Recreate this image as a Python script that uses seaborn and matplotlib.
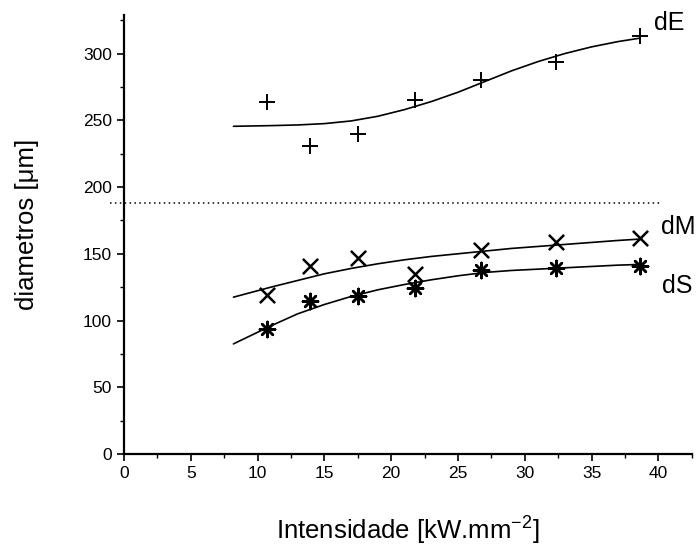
import matplotlib
matplotlib.use('Agg')
from matplotlib import pyplot as plt
from matplotlib.ticker import MultipleLocator
import seaborn as sns
import pandas as pd

# measured points
intensity = [10.7, 13.9, 17.5, 21.8, 26.7, 32.3, 38.6]
dE = [264, 231, 240, 265, 280, 294, 313]
dM = [119, 141, 147, 135, 153, 159, 162]
dS = [94, 115, 118, 124, 138, 139, 141]

# fitted curves
fit_x = [8.2, 11.0, 13.0, 15.0, 17.0, 19.0, 21.0, 23.0, 25.0, 27.0,
         29.0, 31.0, 33.0, 35.0, 37.0, 38.6]
fit_dE = [245.5, 246, 246.5, 247.5, 249.5, 253, 258, 264, 271, 279,
          287, 294, 300, 305, 309, 311.5]
fit_dM = [117.5, 125, 130, 135, 139, 142.5, 145.5, 148, 150, 152,
          154, 155.5, 157, 158.5, 160, 161]
fit_dS = [82.5, 96, 105, 112, 118, 123, 127, 130.5, 133.5, 136,
          137.5, 138.5, 139.5, 140.5, 141.5, 142]

limit_y = 188

n = len(fit_x)
pts = pd.DataFrame({'I': intensity * 3,
                    'd': dE + dM + dS,
                    'serie': ['dE'] * 7 + ['dM'] * 7 + ['dS'] * 7})
fits = pd.DataFrame({'I': fit_x * 3,
                     'd': fit_dE + fit_dM + fit_dS,
                     'serie': ['dE'] * n + ['dM'] * n + ['dS'] * n})

sns.set_style('ticks', {'axes.edgecolor': 'black', 'text.color': 'black',
                        'axes.labelcolor': 'black', 'xtick.color': 'black',
                        'ytick.color': 'black'})
plt.rcParams['font.family'] = ['Liberation Sans', 'DejaVu Sans']

fig = plt.figure(figsize=(6.96, 5.49), dpi=100)
ax = fig.add_axes([0.178, 0.173, 0.816, 0.80])

for s in ['dE', 'dM', 'dS']:
    sns.lineplot(data=fits[fits.serie == s], x='I', y='d', color='black',
                 lw=1.2, ax=ax, sort=True)

markers = {'dE': '+', 'dM': 'x', 'dS': (8, 2, 0)}
for s in ['dE', 'dM', 'dS']:
    sns.scatterplot(data=pts[pts.serie == s], x='I', y='d', marker=markers[s],
                    s=120, color='black', linewidth=1.8 if s != 'dE' else 1.4,
                    ax=ax, zorder=3)

ax.plot([-1.05, 40.3], [limit_y, limit_y], ls=(0, (1, 2.2)), color='black',
        lw=1.1, clip_on=False)

ax.text(39.7, 323, 'dE', fontsize=18, va='center', clip_on=False)
ax.text(40.2, 170, 'dM', fontsize=18, va='center', clip_on=False)
ax.text(40.3, 126, 'dS', fontsize=18, va='center', clip_on=False)

ax.set_xlim(0, 42.5)
ax.set_ylim(0, 329)
ax.xaxis.set_major_locator(MultipleLocator(5))
ax.xaxis.set_minor_locator(MultipleLocator(2.5))
ax.yaxis.set_major_locator(MultipleLocator(50))
ax.yaxis.set_minor_locator(MultipleLocator(25))
ax.tick_params(which='major', length=5, width=1.2, labelsize=12.5,
               direction='out', colors='black')
ax.tick_params(which='minor', length=3, width=1.0, direction='out', colors='black')
sns.despine(ax=ax)
for sp in ['left', 'bottom']:
    ax.spines[sp].set_linewidth(1.6)

ax.set_xlabel('Intensidade [kW.mm$^{\\mathregular{-2}}$]', fontsize=18.5, va='center')
ax.set_ylabel('diametros [\u03bcm]', fontsize=18.5, va='center')
ax.xaxis.set_label_coords(0.5, -0.171)
ax.yaxis.set_label_coords(-0.171, 0.524)

fig.savefig('out.png', dpi=100)
